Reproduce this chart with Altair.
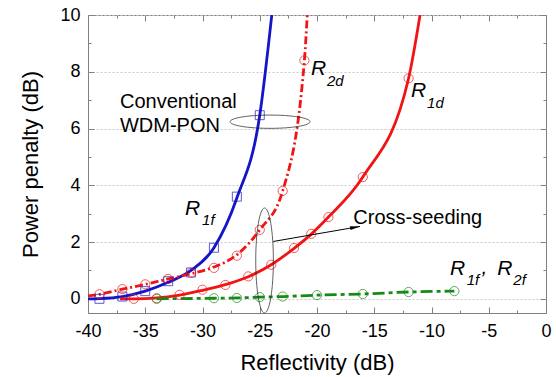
import altair as alt
import pandas as pd

# ---------------- data ----------------
# Conventional WDM-PON, R1f (blue squares, solid line)
conv_r1f_x = [-39, -37, -35, -33, -31, -29, -27, -25]
conv_r1f_y = [0.0, 0.08, 0.27, 0.62, 0.93, 1.80, 3.60, 6.47]
conv_r1f_line_x = [-40, -39, -37, -35, -33, -31, -29, -27, -25, -23.95]
conv_r1f_line_y = [0.0, 0.01, 0.08, 0.27, 0.58, 1.00, 1.80, 3.55, 6.47, 10.0]

# Conventional WDM-PON, R2d (red circles, dash-dot line)
conv_r2d_x = [-39, -37, -35, -33, -31, -29, -27, -25, -23, -21.1]
conv_r2d_y = [0.16, 0.34, 0.51, 0.70, 0.91, 1.09, 1.52, 2.43, 3.80, 8.40]
conv_r2d_line_x = [-40, -39, -37, -35, -33, -31, -29, -27, -25, -23, -21.1, -20.85]
conv_r2d_line_y = [0.10, 0.16, 0.34, 0.51, 0.70, 0.88, 1.12, 1.55, 2.43, 3.80, 8.40, 10.0]

# Cross-seeding, R1d (red circles, solid line)
cross_r1d_x = [-36, -34, -32, -30, -28, -26, -24, -22, -20.5, -19, -16, -12]
cross_r1d_y = [0.0, 0.02, 0.14, 0.32, 0.49, 0.79, 1.20, 1.79, 2.29, 2.88, 4.29, 7.77]
cross_r1d_line_x = [-37.2, -36, -34, -32, -30, -28, -26, -24, -22, -20.5, -19, -16, -12, -11]
cross_r1d_line_y = [0.0, 0.0, 0.03, 0.13, 0.30, 0.50, 0.78, 1.20, 1.78, 2.28, 2.88, 4.29, 7.77, 10.0]

# Cross-seeding, R1f / R2f (green circles, dashed line)
cross_rf_x = [-34, -29, -27, -25, -23, -20, -16, -12, -8]
cross_rf_y = [0.0, 0.02, 0.03, 0.06, 0.08, 0.13, 0.17, 0.24, 0.27]

# annotations
text_labels = ["Conventional", "WDM-PON", "Cross-seeding"]
text_x = [-37.21, -37.21, -16.83]
text_y = [6.73, 5.89, 2.64]

letter_text = ["R", "R", "R", "R", "R"]
letter_x = [-31.53, -20.52, -11.79, -8.38, -4.25]
letter_y = [2.96, 7.89, 7.12, 0.85, 0.85]
sub_text = ["1f", "2d", "1d", "1f", "2f"]
sub_x = [-30.04, -19.13, -10.39, -6.92, -2.85]
sub_y = [2.61, 7.50, 6.73, 0.49, 0.49]
comma_x = [-5.63]
comma_y = [0.88]

ellipse_x = [-24.1, -24.58]
ellipse_y = [6.24, 1.35]
arrow_x, arrow_y, arrow_x2, arrow_y2 = [-23.82], [2.02], [-16.24], [2.55]
arrowhead_x, arrowhead_y = [-16.67], [2.52]

x_ticks_major = list(range(-40, 1, 5))
x_ticks_minor = [v + 2.5 for v in range(-40, 0, 5)]
y_ticks_major = [0, 2, 4, 6, 8, 10]
y_ticks_minor = [1, 3, 5, 7, 9]

# ---------------- styling ----------------
W, H = 458, 298
FONT = "Liberation Sans"
BLUE = "#1414c8"
RED = "#f01414"
GREEN = "#168a16"
FRAME = "#808080"

XS = alt.Scale(domain=[-40, 0], nice=False, zero=False)
YS = alt.Scale(domain=[-0.5, 10], nice=False, zero=False)


def df(xs, ys, **extra):
    d = {"x": xs, "y": ys}
    d.update(extra)
    return pd.DataFrame(d)


def ellipse_path(rx, ry):
    k = 0.5523
    return (f"M {-rx} 0 C {-rx} {-k*ry} {-k*rx} {-ry} 0 {-ry} "
            f"C {k*rx} {-ry} {rx} {-k*ry} {rx} 0 "
            f"C {rx} {k*ry} {k*rx} {ry} 0 {ry} "
            f"C {-k*rx} {ry} {-rx} {k*ry} {-rx} 0 Z")


def enc(xaxis=None, yaxis=None):
    return dict(
        x=alt.X("x:Q", scale=XS, axis=xaxis),
        y=alt.Y("y:Q", scale=YS, axis=yaxis),
    )


base_df = df(cross_rf_x, cross_rf_y)

# main axes (labels, titles, grid)
main_axes = alt.Chart(base_df).mark_point(opacity=0).encode(**enc(
    alt.Axis(values=x_ticks_major, title="Reflectivity (dB)", ticks=False, domain=False,
             grid=False, labelFontSize=18, titleFontSize=22, labelFont=FONT, titleFont=FONT,
             labelColor="black", titleColor="black", titleFontWeight="normal",
             labelPadding=9, titlePadding=12, labelExpr="'' + datum.value", orient="bottom",
             labelFlush=False, labelOverlap=False),
    alt.Axis(values=y_ticks_major, title="Power penalty (dB)", ticks=False, domain=False,
             grid=True, gridDash=[2, 2], gridColor="#c8c8c8", labelFontSize=18,
             titleFontSize=22, labelFont=FONT, titleFont=FONT, labelColor="black",
             titleColor="black", titleFontWeight="normal", labelPadding=8, titlePadding=17,
             orient="left", labelFlush=False, labelOverlap=False),
))


def tick_axis(vals, orient, offset, size):
    return alt.Axis(values=vals, orient=orient, offset=offset, labels=False, domain=False,
                    ticks=True, tickSize=size, tickColor=FRAME, tickWidth=1, grid=False,
                    title=None)


tick_layers = [
    alt.Chart(base_df).mark_point(opacity=0).encode(**enc(
        tick_axis(x_ticks_major, "top", -H, 6), tick_axis(y_ticks_major, "right", -W, 6))),
    alt.Chart(base_df).mark_point(opacity=0).encode(**enc(
        tick_axis(x_ticks_major, "bottom", -H, 6), tick_axis(y_ticks_major, "left", -W, 6))),
    alt.Chart(base_df).mark_point(opacity=0).encode(**enc(
        tick_axis(x_ticks_minor, "top", -H, 3), tick_axis(y_ticks_minor, "right", -W, 3))),
    alt.Chart(base_df).mark_point(opacity=0).encode(**enc(
        tick_axis(x_ticks_minor, "bottom", -H, 3), tick_axis(y_ticks_minor, "left", -W, 3))),
]

# lines
l_blue = alt.Chart(df(conv_r1f_line_x, conv_r1f_line_y)).mark_line(
    interpolate="monotone", color=BLUE, strokeWidth=2.8, clip=True).encode(**enc())
l_r2d = alt.Chart(df(conv_r2d_line_x, conv_r2d_line_y)).mark_line(
    interpolate="monotone", color=RED, strokeWidth=2.8, strokeDash=[8, 3, 2, 3], clip=True).encode(**enc())
l_r1d = alt.Chart(df(cross_r1d_line_x, cross_r1d_line_y)).mark_line(
    interpolate="monotone", color=RED, strokeWidth=2.8, clip=True).encode(**enc())
l_green = alt.Chart(df(cross_rf_x, cross_rf_y)).mark_line(
    interpolate="monotone", color=GREEN, strokeWidth=2.8, strokeDash=[12, 4, 4, 4], clip=True).encode(**enc())

# markers
m_blue = alt.Chart(df(conv_r1f_x, conv_r1f_y)).mark_point(
    shape="square", size=81, filled=False, color=BLUE, strokeWidth=1).encode(**enc())
m_r2d = alt.Chart(df(conv_r2d_x, conv_r2d_y)).mark_point(
    shape="circle", size=85, filled=False, color=RED, strokeWidth=1).encode(**enc())
m_r1d = alt.Chart(df(cross_r1d_x, cross_r1d_y)).mark_point(
    shape="circle", size=85, filled=False, color=RED, strokeWidth=1).encode(**enc())
m_green = alt.Chart(df(cross_rf_x, cross_rf_y)).mark_point(
    shape="circle", size=85, filled=False, color=GREEN, strokeWidth=1).encode(**enc())

# ellipses
e1 = alt.Chart(df(ellipse_x[:1], ellipse_y[:1])).mark_point(
    shape=ellipse_path(1, 0.166), size=6400, filled=False, color="#202020", strokeWidth=1).encode(**enc())
e2 = alt.Chart(df(ellipse_x[1:], ellipse_y[1:])).mark_point(
    shape=ellipse_path(0.168, 1), size=11025, filled=False, color="#202020", strokeWidth=1).encode(**enc())

# arrow
arrow = alt.Chart(pd.DataFrame({"x": arrow_x, "y": arrow_y, "x2": arrow_x2, "y2": arrow_y2})).mark_rule(
    color="black", strokeWidth=1).encode(
    x=alt.X("x:Q", scale=XS, axis=None), y=alt.Y("y:Q", scale=YS, axis=None),
    x2="x2:Q", y2="y2:Q")
arrowhead = alt.Chart(df(arrowhead_x, arrowhead_y)).mark_point(
    shape="M 1 0 L -1 -0.4 L -1 0.4 Z", size=100, filled=True, color="black", opacity=1,
    angle=350.2).encode(**enc())

# texts
t_plain = alt.Chart(df(text_x, text_y, t=text_labels)).mark_text(
    font=FONT, fontSize=20, align="left", baseline="alphabetic", color="black").encode(
    text="t:N", **enc())
t_letter = alt.Chart(df(letter_x, letter_y, t=letter_text)).mark_text(
    font=FONT, fontSize=21, fontStyle="italic", align="left", baseline="alphabetic", color="black").encode(
    text="t:N", **enc())
t_sub = alt.Chart(df(sub_x, sub_y, t=sub_text)).mark_text(
    font=FONT, fontSize=15, fontStyle="italic", align="left", baseline="alphabetic", color="black").encode(
    text="t:N", **enc())
t_comma = alt.Chart(df(comma_x, comma_y, t=[","])).mark_text(
    font=FONT, fontSize=21, fontStyle="italic", align="left", baseline="alphabetic", color="black").encode(
    text="t:N", **enc())

chart = alt.layer(
    main_axes, *tick_layers,
    l_blue, l_r2d, l_r1d, l_green,
    m_blue, m_r2d, m_r1d, m_green,
    e1, e2, arrow, arrowhead,
    t_plain, t_letter, t_sub, t_comma,
).resolve_axis(x="independent", y="independent").properties(
    width=W, height=H,
    autosize=alt.AutoSizeParams(type="none"),
    padding={"left": 88, "top": 15, "right": 10, "bottom": 64},
    background="white",
).configure_view(stroke=FRAME, strokeWidth=1)

chart.save("out.html", embed_options={"renderer": "svg", "actions": False})
